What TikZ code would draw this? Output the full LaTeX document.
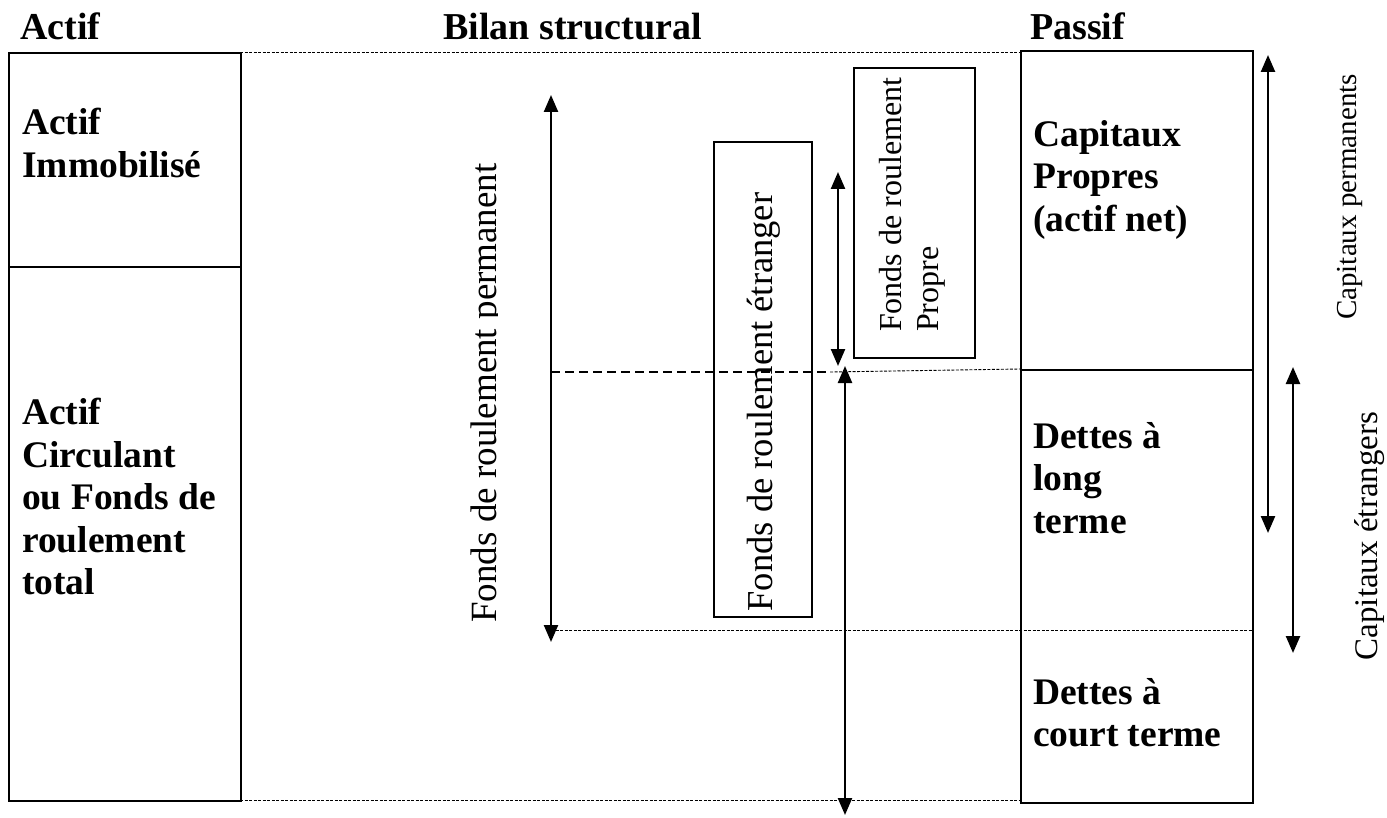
\documentclass[tikz,border=0pt]{standalone}
\usepackage{fontspec}
\setmainfont{Liberation Serif}
\usetikzlibrary{arrows.meta}
\tikzset{
  boxline/.style={draw=black, line width=2pt},
  thindot/.style={draw=black, line width=0.9pt, dash pattern=on 3pt off 1.5pt},
  middash/.style={draw=black, line width=1.6pt, dash pattern=on 9pt off 5pt},
  dblarrow/.style={draw=black, line width=2.4pt, {Triangle[length=17pt,width=14pt]}-{Triangle[length=17pt,width=14pt]}},
  head/.style={font=\fontsize{38}{42}\selectfont\bfseries, inner sep=0pt, anchor=base west},
  bodytxt/.style={font=\fontsize{37.5}{42.5}\selectfont\bfseries, inner sep=0pt, align=left, anchor=north west},
  rottxt/.style={rotate=90, inner sep=0pt, anchor=base},
}
\begin{document}
\begin{tikzpicture}[x=1pt,y=-1pt]
\useasboundingbox (0,0) rectangle (1387,818);
% headers
\node[head] (hactif) at (20,40) {Actif};
\node[head] (hbilan) at (443,40) {Bilan structural};
\node[head] (hpassif) at (1030,40) {Passif};
% left box
\node[boxline, minimum width=232pt, minimum height=214pt, inner sep=0pt, anchor=north west] (immo) at (8,52) {};
\node[boxline, minimum width=232pt, minimum height=534pt, inner sep=0pt, anchor=north west] (circ) at (8,266) {};
\node[bodytxt] (timmo) at (22,108) {Actif\\Immobilisé};
\node[bodytxt] (tcirc) at (22,398) {Actif\\Circulant\\ou Fonds de\\roulement\\total};
% right box
\node[boxline, minimum width=232pt, minimum height=319pt, inner sep=0pt, anchor=north west] (cp) at (1020,50) {};
\node[boxline, minimum width=232pt, minimum height=433pt, inner sep=0pt, anchor=north west] (dettes) at (1020,369) {};
\node[bodytxt] (tcp) at (1033,120) {Capitaux\\Propres\\(actif net)};
\node[bodytxt] (tdlt) at (1033,422) {Dettes à\\long\\terme};
\node[bodytxt] (tdct) at (1033,678) {Dettes à\\court terme};
% dotted guide lines
\coordinate (topL) at (240,52);
\coordinate (botL) at (240,800);
\draw[thindot] (topL) -- (cp.north west |- topL);
\draw[thindot] (botL) -- (dettes.south west |- botL);
\coordinate (frpB) at (551,630);
\draw[thindot] (frpB) -- (1252,630);
\coordinate (dashL) at (551,372);
\coordinate (dashM) at (830,372);
\draw[middash] (dashL) -- (dashM);
\draw[thindot] (dashM) -- (dettes.north west);
% FR permanent
\coordinate (frpT) at (551,95);
\coordinate (frpE) at (551,642);
\draw[dblarrow] (frpT) -- (frpE);
\begin{scope}
\clip (400,0) rectangle (497,818);
\node[rottxt, font=\fontsize{37}{42}\selectfont] (tfrp) at (496,393) {Fonds de roulement permanent};
\end{scope}
% FR etranger box
\node[draw=black, line width=1.6pt, minimum width=98pt, minimum height=475pt, inner sep=0pt, anchor=north west] (fre) at (713,141) {};
\node[rottxt, font=\fontsize{36.5}{42}\selectfont] (tfre) at (772,402) {Fonds de roulement étranger};
% FR propre box
\node[draw=black, line width=1.6pt, minimum width=121pt, minimum height=290pt, inner sep=0pt, anchor=north west] (frpr) at (853,67) {};
\node[rotate=90, inner sep=0pt, anchor=north west, align=left, font=\fontsize{32}{37}\selectfont] (tfrpr) at (879,332) {Fonds de roulement\\Propre};
% arrows
\coordinate (a1T) at (838,172);
\coordinate (a1B) at (838,366);
\draw[dblarrow] (a1T) -- (a1B);
\coordinate (a2T) at (845,366);
\coordinate (a2B) at (845,815);
\draw[dblarrow] (a2T) -- (a2B);
\coordinate (cpT) at (1268,55);
\coordinate (cpB) at (1268,533);
\draw[dblarrow] (cpT) -- (cpB);
\coordinate (ceT) at (1293,367);
\coordinate (ceB) at (1293,653);
\draw[dblarrow] (ceT) -- (ceB);
\node[rottxt, font=\fontsize{29}{34}\selectfont] (tcperm) at (1356,197) {Capitaux permanents};
\node[rottxt, font=\fontsize{33}{38}\selectfont] (tcetr) at (1377,536) {Capitaux étrangers};
\end{tikzpicture}
\end{document}
